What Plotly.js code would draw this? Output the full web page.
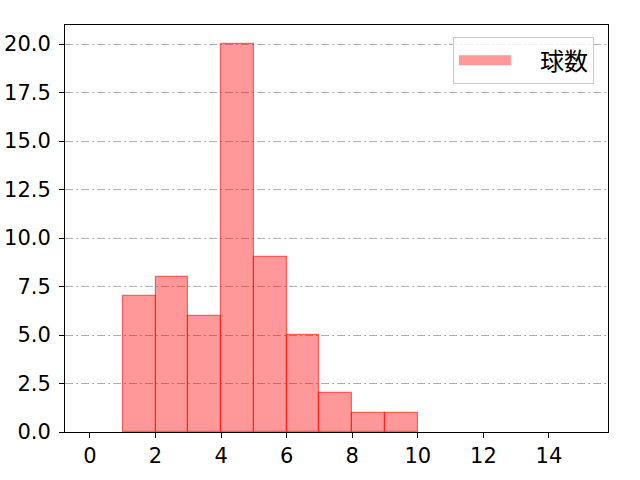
<!DOCTYPE html>
<html>
<head>
<meta charset="utf-8">
<script src="https://cdn.plot.ly/plotly-3.0.1.min.js"></script>
<style>body{margin:0;background:#fff}#chart{width:640px;height:480px}</style>
</head>
<body>
<div id="chart"></div>
<script>
const CHART = document.getElementById('chart');

// bin centres (bins are 1 wide, from 1 to 10) and counts
const binCenters = [1.5, 2.5, 3.5, 4.5, 5.5, 6.5, 7.5, 8.5, 9.5];
const counts = [7, 8, 6, 20, 9, 5, 2, 1, 1];
const seriesName = '球数';

const TICK_FONT = '"DejaVu Sans", sans-serif';
const CJK_FONT = '"Noto Sans CJK JP", sans-serif';

const FILL = 'rgba(255,0,0,0.4)';

const traces = [{
    type: 'bar',
    name: seriesName,
    x: binCenters,
    y: counts,
    width: 1,
    marker: {
        color: FILL,
        line: {color: 'rgba(255,0,0,0.55)', width: 1.2}
    },
    showlegend: false,
    legendgroup: 'g'
}, {
    // legend-only entry so the swatch is a wide patch like the original
    type: 'scatter',
    mode: 'lines',
    name: '\u2003' + seriesName,
    x: [null],
    y: [null],
    line: {color: FILL, width: 20},
    legendgroup: 'g',
    hoverinfo: 'skip'
}];

const layout = {
    width: 640,
    height: 480,
    margin: {l: 65, r: 32, t: 25, b: 48},
    paper_bgcolor: '#ffffff',
    plot_bgcolor: '#ffffff',
    font: {family: TICK_FONT, size: 21, color: '#000'},
    bargap: 0,
    xaxis: {
        range: [-0.76, 15.8],
        tickvals: [0, 2, 4, 6, 8, 10, 12, 14],
        ticks: 'outside',
        ticklen: 5,
        tickcolor: '#000',
        showline: true,
        linecolor: '#000',
        linewidth: 1,
        mirror: true,
        showgrid: false,
        zeroline: false
    },
    yaxis: {
        range: [0, 20.98],
        tickvals: [0, 2.5, 5, 7.5, 10, 12.5, 15, 17.5, 20],
        ticktext: ['0.0', '2.5', '5.0', '7.5', '10.0', '12.5', '15.0', '17.5', '20.0'],
        ticks: 'outside',
        ticklen: 5,
        tickcolor: '#000',
        ticklabelstandoff: 4,
        showline: true,
        linecolor: '#000',
        linewidth: 1,
        mirror: true,
        showgrid: true,
        gridcolor: '#b0b0b0',
        griddash: '8px,3px,2px,3px',
        gridwidth: 1,
        zeroline: false
    },
    legend: {
        x: 0.974,
        y: 0.97,
        xanchor: 'right',
        yanchor: 'top',
        bgcolor: 'rgba(255,255,255,0.8)',
        bordercolor: '#cccccc',
        borderwidth: 1,
        font: {family: CJK_FONT, size: 24},
        itemwidth: 52
    }
};

Plotly.newPlot(CHART, traces, layout, {displayModeBar: false});
</script>
</body>
</html>
